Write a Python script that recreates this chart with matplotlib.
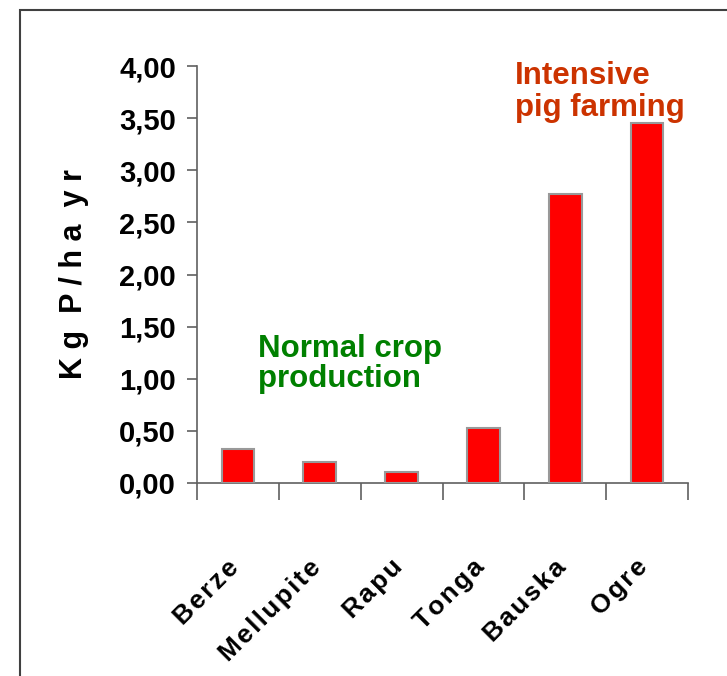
import numpy as np
import matplotlib.pyplot as plt
from matplotlib.patches import Rectangle

# data
sites = ["Berze", "Mellupite", "Rapu", "Tonga", "Bauska", "Ogre"]
p_load = [0.33, 0.20, 0.11, 0.53, 2.77, 3.45]
y_ticks = [0.0, 0.5, 1.0, 1.5, 2.0, 2.5, 3.0, 3.5, 4.0]

sans = ["Liberation Sans", "DejaVu Sans"]

fig = plt.figure(figsize=(7.27, 6.76), dpi=100)

# frame round the slide (only top and left edges are visible)
fig.patches.append(Rectangle((20 / 727, -0.1), 1.2, 1.1 - 10 / 676,
                             transform=fig.transFigure, fill=False,
                             edgecolor="#404040", linewidth=1.5))

ax = fig.add_axes([197 / 727, 1 - 483 / 676, 491 / 727, 417 / 676])

x = np.arange(len(sites))
ax.bar(x, p_load, width=0.4, color="#ff0000", edgecolor="#999999",
       linewidth=1.5, zorder=3)

ax.set_xlim(-0.5, len(sites) - 0.5)
ax.set_ylim(0, 4)

for s in ["top", "right"]:
    ax.spines[s].set_visible(False)
for s in ["left", "bottom"]:
    ax.spines[s].set_color("#606060")
    ax.spines[s].set_linewidth(1.2)

ax.set_yticks(y_ticks)
ax.set_yticklabels([f"{v:.2f}".replace(".", ",") for v in y_ticks],
                   family=sans, fontweight="bold", fontsize=21)
ax.tick_params(axis="y", direction="out", length=7, width=1.2,
               color="#606060", pad=8)

# category ticks sit on the boundaries between bars
ax.set_xticks(np.arange(len(sites) + 1) - 0.5)
ax.set_xticklabels([])
ax.tick_params(axis="x", direction="out", length=12, width=1.2,
               color="#606060")

for xi, name in zip(x, sites):
    spaced = "\u200a".join(name)
    ax.annotate(spaced, xy=(xi, 0), xycoords=("data", "axes fraction"),
                xytext=(-2, -58), textcoords="offset points",
                rotation=45, rotation_mode="anchor", ha="right",
                va="center", family=sans, fontweight="bold", fontsize=19)

ax.set_ylabel("K g  P / h a  y r", family=sans, fontweight="bold",
              fontsize=22, labelpad=22)

ax.text(258 / 727, 1 - 334 / 676, "Normal crop\nproduction",
        transform=fig.transFigure, color="#008000", family=sans,
        fontweight="bold", fontsize=22.5, linespacing=1.0, va="top")
ax.text(515 / 727, 1 - 61 / 676, "Intensive\npig farming",
        transform=fig.transFigure, color="#cc3300", family=sans,
        fontweight="bold", fontsize=22.5, linespacing=1.1, va="top")

fig.savefig("out.png", dpi=100)
